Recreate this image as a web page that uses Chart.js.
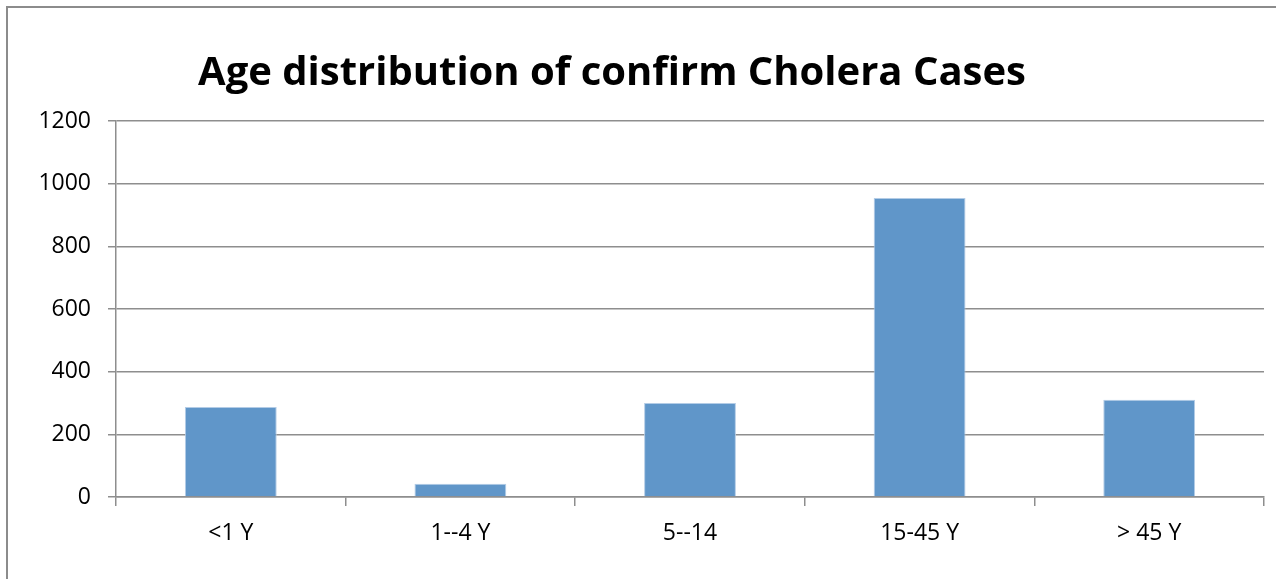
<!DOCTYPE html>
<html>
<head>
<meta charset="utf-8">
<script src="https://cdn.jsdelivr.net/npm/chart.js@4.4.0/dist/chart.umd.min.js"></script>
<style>
  html, body { margin: 0; padding: 0; background: #ffffff; }
  #wrap { position: relative; width: 1276px; height: 579px; }
</style>
</head>
<body>
<div id="wrap"><canvas id="c" width="1276" height="579"></canvas></div>
<script>
const chartTitle = 'Age distribution of confirm Cholera Cases';
const categories = ['<1 Y', '1--4 Y', '5--14', '15-45 Y', '> 45 Y'];
const cases = [287, 42, 300, 954, 310];
const yTicks = [0, 200, 400, 600, 800, 1000, 1200];

const gridColor = '#8e8e8e';
const tickFont = { family: 'Open Sans', size: 23 };

const frameAndTitle = {
  id: 'frameAndTitle',
  beforeDraw(chart) {
    const ctx = chart.ctx;
    ctx.save();
    ctx.strokeStyle = '#8c8c8c';
    ctx.lineWidth = 2;
    ctx.strokeRect(7, 7, 1300, 600);
    ctx.restore();
  },
  afterDraw(chart) {
    const ctx = chart.ctx;
    ctx.save();
    ctx.fillStyle = '#000000';
    ctx.font = 'bold 40px "Open Sans"';
    ctx.textAlign = 'center';
    ctx.textBaseline = 'alphabetic';
    ctx.fillText(chartTitle, 612, 85);
    ctx.restore();
  }
};

new Chart(document.getElementById('c'), {
  type: 'bar',
  data: {
    labels: categories,
    datasets: [{
      data: cases,
      backgroundColor: '#6096c9',
      borderColor: '#b3cce6',
      borderWidth: 1,
      categoryPercentage: 0.8,
      barPercentage: 0.5
    }]
  },
  options: {
    responsive: false,
    animation: false,
    layout: { padding: { top: 121, right: 12, bottom: 0, left: 0 } },
    plugins: { legend: { display: false }, tooltip: { enabled: false }, title: { display: false } },
    scales: {
      x: {
        grid: { offset: true, drawOnChartArea: false, drawTicks: true, tickLength: 9, color: gridColor, lineWidth: 1.5 },
        border: { color: gridColor, width: 1.5 },
        ticks: { font: tickFont, color: '#000000', padding: 14, maxRotation: 0 },
        afterFit(s) { s.height = 82; }
      },
      y: {
        min: 0,
        max: 1200,
        afterBuildTicks(s) { s.ticks = yTicks.map(v => ({ value: v })); },
        grid: { color: gridColor, lineWidth: 1.5, tickLength: 8, drawTicks: true },
        border: { color: gridColor, width: 1.5 },
        ticks: { font: tickFont, color: '#000000', padding: 17, callback: v => String(v) },
        afterFit(s) { s.width = 116; }
      }
    }
  },
  plugins: [frameAndTitle]
});
</script>
</body>
</html>
